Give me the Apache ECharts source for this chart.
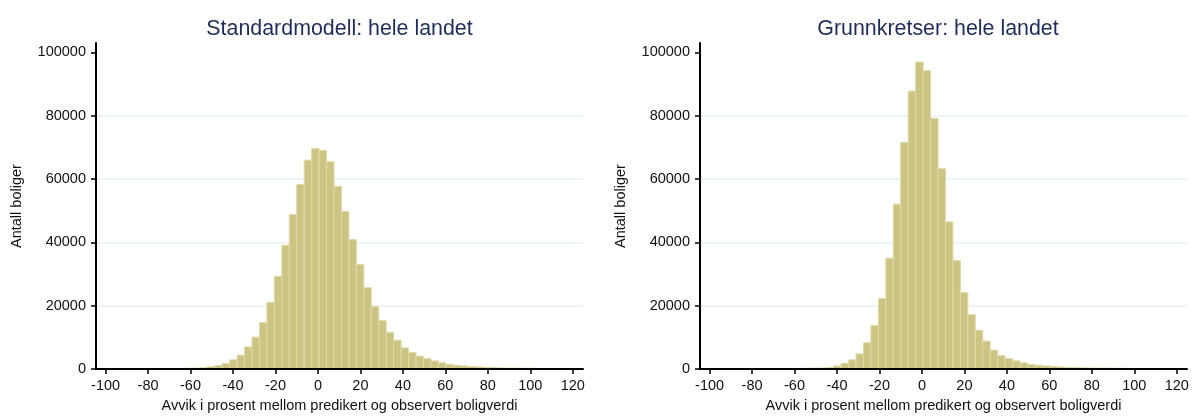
<!DOCTYPE html>
<html>
<head>
<meta charset="utf-8">
<script src="https://cdn.jsdelivr.net/npm/echarts@6/dist/echarts.min.js"></script>
<style>
html,body{margin:0;padding:0;background:#fff;}
#c{width:1192px;height:418px;}
</style>
</head>
<body>
<div id="c"></div>
<script>
// ---- data ----
const titleLeft = 'Standardmodell: hele landet';
const titleRight = 'Grunnkretser: hele landet';
const xAxisTitle = 'Avvik i prosent mellom predikert og observert boligverdi';
const yAxisTitle = 'Antall boliger';
const xTickValues = [-100, -80, -60, -40, -20, 0, 20, 40, 60, 80, 100, 120];
const yTickValues = [0, 20000, 40000, 60000, 80000, 100000];
const binStart = -87.2;   // left edge of first bin (percent)
const binWidth = 3.51;    // bin width (percent)
const countsStandard = [
  150, 150, 150, 150, 150, 200, 200, 250, 300,
  450, 800, 1100, 1750, 2900, 4400, 7000, 10100, 14700, 21100,
  29300, 39100, 48800, 58300, 66000, 69700, 69100, 65500, 57700, 49800,
  40900, 33000, 25700, 19700, 15300, 11600, 9100, 6700, 5200, 4100,
  3300, 2600, 2000, 1500, 1200, 1000, 800, 700, 550, 450,
  350, 300, 300, 250, 250, 200, 200, 200, 150, 150
];
const countsGrunnkrets = [
  150, 150, 150, 150, 150, 150, 200, 200, 200, 250, 300, 350,
  500, 1000, 1800, 2900, 4800, 8300, 13800, 22300, 35000, 52100,
  71600, 87800, 97000, 94300, 79200, 63300, 46500, 34300, 24200, 17200,
  12300, 8850, 6000, 4300, 3300, 2600, 2000, 1500, 1200, 1000,
  850, 650, 550, 450,
  400, 350, 300, 300, 250, 250, 200, 200, 200, 150, 150, 150, 150
];

function toBins(counts) {
  return counts.map((c, i) => [binStart + i * binWidth, binStart + (i + 1) * binWidth, c]);
}

const font = 'Arial, "Liberation Sans", Helvetica, sans-serif';
const barFill = '#ccc483';
const barEdge = '#dedaa8';

function renderBar(params, api) {
  const p0 = api.coord([api.value(0), api.value(2)]);
  const p1 = api.coord([api.value(1), 0]);
  return {
    type: 'rect',
    shape: { x: p0[0], y: p0[1], width: p1[0] - p0[0], height: p1[1] - p0[1] },
    style: { fill: barFill, stroke: barEdge, lineWidth: 1 }
  };
}

function xAxis(gridIndex) {
  return {
    type: 'value', gridIndex: gridIndex, z: 5,
    min: -104.5, max: 124.8,
    name: xAxisTitle, nameLocation: 'middle', nameGap: 25,
    nameTextStyle: { fontFamily: font, fontSize: 14.5, color: '#111' },
    axisLine: { show: true, onZero: false, lineStyle: { color: '#000', width: 2 } },
    axisTick: { show: true, length: 5, lineStyle: { color: '#000', width: 1.5 }, customValues: xTickValues },
    axisLabel: { fontFamily: font, fontSize: 14.5, color: '#111', margin: 9, customValues: xTickValues,
      formatter: v => String(v) },
    splitLine: { show: false }
  };
}
function yAxis(gridIndex) {
  return {
    type: 'value', gridIndex: gridIndex,
    min: 0, max: 103000,
    name: yAxisTitle, nameLocation: 'middle', nameGap: 72, nameRotate: 90,
    nameTextStyle: { fontFamily: font, fontSize: 14.5, color: '#111' },
    axisLine: { show: true, onZero: false, lineStyle: { color: '#000', width: 2 } },
    axisTick: { show: true, length: 5, lineStyle: { color: '#000', width: 1.5 }, customValues: yTickValues },
    axisLabel: { fontFamily: font, fontSize: 14.5, color: '#111', margin: 10, customValues: yTickValues,
      formatter: v => String(v) },
    splitLine: { show: true, showMinLine: false, showMaxLine: false, lineStyle: { color: '#e9eff3', width: 1.5 } }
  };
}

const chart = echarts.init(document.getElementById('c'), null, { renderer: 'canvas' });
chart.setOption({
  animation: false,
  backgroundColor: '#fff',
  title: [
    { text: titleLeft, left: 339.5, top: 19, textAlign: 'center', padding: 0,
      textStyle: { fontFamily: font, fontSize: 21.4, fontWeight: 'normal', color: '#1f2d58' } },
    { text: titleRight, left: 938, top: 19, textAlign: 'center', padding: 0,
      textStyle: { fontFamily: font, fontSize: 21.4, fontWeight: 'normal', color: '#1f2d58' } }
  ],
  grid: [
    { left: 96, right: 609, top: 43, bottom: 39, containLabel: false },
    { left: 700, right: 5, top: 43, bottom: 39, containLabel: false }
  ],
  xAxis: [xAxis(0), xAxis(1)],
  yAxis: [yAxis(0), yAxis(1)],
  series: [
    { type: 'custom', xAxisIndex: 0, yAxisIndex: 0, renderItem: renderBar, z: 2,
      encode: { x: [0, 1], y: 2 }, data: toBins(countsStandard) },
    { type: 'custom', xAxisIndex: 1, yAxisIndex: 1, renderItem: renderBar, z: 2,
      encode: { x: [0, 1], y: 2 }, data: toBins(countsGrunnkrets) }
  ]
});
</script>
</body>
</html>
